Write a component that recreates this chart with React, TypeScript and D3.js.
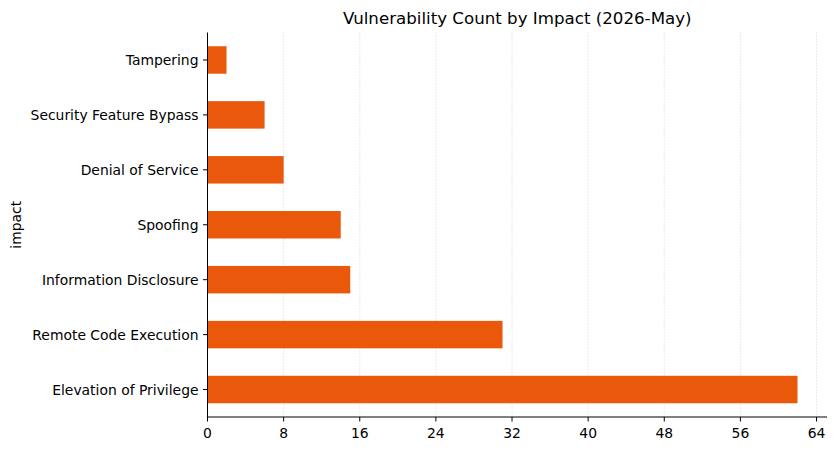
import React from "react";
import * as d3 from "d3";

const categories = [
  "Elevation of Privilege",
  "Remote Code Execution",
  "Information Disclosure",
  "Spoofing",
  "Denial of Service",
  "Security Feature Bypass",
  "Tampering",
];
const counts = [62, 31, 15, 14, 8, 6, 2];
const xTicks = [0, 8, 16, 24, 32, 40, 48, 56, 64];
const title = "Vulnerability Count by Impact (2026-May)";
const yLabel = "impact";

const W = 837;
const H = 451;
const M = { left: 207.5, right: 10, top: 32.5, bottom: 34 };
const FONT = "DejaVu Sans, sans-serif";
const COLOR = "#ea580c";

export default function App() {
  const innerH = H - M.top - M.bottom;
  const x = d3.scaleLinear().domain([0, 62 * 1.05]).range([M.left, W - M.right]);
  const y = d3
    .scaleLinear()
    .domain([-0.5, categories.length - 0.5])
    .range([M.top + innerH, M.top]);
  const barH = y(0) - y(0.5);
  return (
    <svg
      width={W}
      height={H}
      style={{ position: "absolute", left: 0, top: 0, background: "#fff" }}
      fontFamily={FONT}
    >
      {xTicks.slice(1).map((t) => (
        <line
          key={"g" + t}
          x1={x(t)}
          x2={x(t)}
          y1={M.top}
          y2={M.top + innerH}
          stroke="#cccccc"
          strokeWidth={0.8}
          strokeDasharray="1,2"
        />
      ))}
      {categories.map((c, i) => (
        <rect
          key={c}
          x={x(0)}
          y={y(i) - barH / 2}
          width={x(counts[i]) - x(0)}
          height={barH}
          fill={COLOR}
        />
      ))}
      <line x1={M.left} x2={M.left} y1={M.top} y2={M.top + innerH} stroke="#000" strokeWidth={1} />
      <line x1={M.left} x2={W - M.right} y1={M.top + innerH} y2={M.top + innerH} stroke="#000" strokeWidth={1} />
      {categories.map((c, i) => (
        <g key={"yl" + c}>
          <line x1={M.left - 4.5} x2={M.left} y1={y(i)} y2={y(i)} stroke="#000" />
          <text x={M.left - 9} y={y(i)} textAnchor="end" dominantBaseline="central" fontSize={13.9}>
            {c}
          </text>
        </g>
      ))}
      {xTicks.map((t) => (
        <g key={"xl" + t}>
          <line x1={x(t)} x2={x(t)} y1={M.top + innerH} y2={M.top + innerH + 4.5} stroke="#000" />
          <text x={x(t)} y={M.top + innerH + 21} textAnchor="middle" fontSize={13.9}>
            {t}
          </text>
        </g>
      ))}
      <text
        transform={`translate(21,${M.top + innerH / 2}) rotate(-90)`}
        textAnchor="middle"
        fontSize={13.9}
      >
        {yLabel}
      </text>
      <text x={(M.left + W - M.right) / 2} y={24} textAnchor="middle" fontSize={16.67}>
        {title}
      </text>
    </svg>
  );
}
